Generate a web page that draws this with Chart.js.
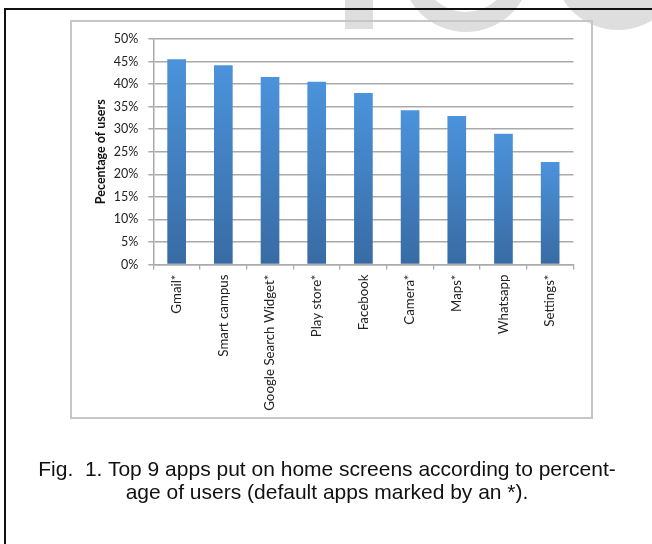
<!DOCTYPE html>
<html>
<head>
<meta charset="utf-8">
<script src="https://cdn.jsdelivr.net/npm/chart.js@4.4.1/dist/chart.umd.min.js"></script>
<style>
  html, body { margin: 0; padding: 0; background: #ffffff; }
  body { width: 652px; height: 544px; position: relative; overflow: hidden; }
  #c { position: absolute; left: 0; top: 0; z-index: 0; }
  #outer { position: absolute; left: 4px; top: 8px; width: 1000px; height: 1000px;
           border-left: 2px solid #111; border-top: 2px solid #111; z-index: 2; pointer-events: none; }
  #frame { position: absolute; left: 70px; top: 20px; width: 523px; height: 399px; box-sizing: border-box;
           border: 2px solid #c6c6c6; z-index: 2; pointer-events: none; }
  #caption { position: absolute; left: 0; top: 457px; width: 654px; text-align: center;
             font-family: "Liberation Sans", Arial, sans-serif; font-size: 21px; line-height: 23px;
             color: #111; z-index: 3; }
</style>
</head>
<body>
<canvas id="c" width="652" height="544"></canvas>
<div id="outer"></div>
<div id="frame"></div>
<div id="caption">Fig.&nbsp; 1. Top 9 apps put on home screens according to percent-<br>age of users (default apps marked by an *).</div>
<script>
const categories = ["Gmail*", "Smart campus", "Google Search Widget*", "Play store*", "Facebook",
                    "Camera*", "Maps*", "Whatsapp", "Settings*"];
const percentUsers = [45.5, 44.2, 41.6, 40.5, 38.0, 34.2, 32.9, 29.0, 22.7];
const yTickMax = 50;
const yTickStep = 5;
const yTitle = "Pecentage of users";

const watermark = {
  id: 'watermark',
  beforeDraw(chart) {
    const ctx = chart.ctx;
    ctx.save();
    ctx.fillStyle = '#dedede';
    ctx.fillRect(345, 0, 28, 29);
    ctx.beginPath();
    ctx.arc(466, -33, 65, 0, Math.PI * 2);
    ctx.arc(466, -33, 45, 0, Math.PI * 2, true);
    ctx.fill('evenodd');
    ctx.beginPath();
    ctx.arc(618, -35, 65, 0, Math.PI * 2);
    ctx.fill();
    ctx.restore();
  }
};

const gridColor = '#aaaaaa';

function barGradient(context) {
  const chart = context.chart;
  const ys = chart.scales && chart.scales.y;
  if (!chart.chartArea || !ys || context.raw === undefined) return '#4a8bd0';
  const top = ys.getPixelForValue(context.raw);
  const bottom = ys.getPixelForValue(0);
  const g = chart.ctx.createLinearGradient(0, top, 0, bottom);
  g.addColorStop(0, '#4b93dc');
  g.addColorStop(1, '#386ba3');
  return g;
}

new Chart(document.getElementById('c'), {
  type: 'bar',
  data: {
    labels: categories,
    datasets: [{
      data: percentUsers,
      backgroundColor: barGradient,
      borderWidth: 0,
      barPercentage: 0.4,
      categoryPercentage: 1.0
    }]
  },
  plugins: [watermark],
  options: {
    responsive: false,
    animation: false,
    events: [],
    layout: { padding: { left: 90, right: 78.5, top: 39, bottom: 129.5 } },
    plugins: { legend: { display: false }, tooltip: { enabled: false } },
    scales: {
      x: {
        afterFit(scale) { scale.height = 150; },
        grid: { display: true, drawOnChartArea: false, drawTicks: true, tickLength: 5, color: gridColor, lineWidth: 1.3 },
        border: { display: true, color: gridColor, width: 1.5 },
        ticks: {
          minRotation: 90, maxRotation: 90, autoSkip: false, padding: 5,
          color: '#222', font: { family: 'Lato', size: 13.3 }
        }
      },
      y: {
        min: 0, max: yTickMax,
        afterFit(scale) { scale.width = 63.3; },
        grid: { color: gridColor, lineWidth: 1.5, drawTicks: true, tickLength: 5 },
        border: { display: true, color: gridColor, width: 1.5 },
        ticks: {
          stepSize: yTickStep, padding: 10, color: '#222',
          font: { family: 'Lato', size: 12.5 },
          callback: v => v + '%'
        },
        title: {
          display: true, text: yTitle, color: '#111',
          font: { family: 'Lato', size: 12.5, weight: 'bold', lineHeight: 1 },
          padding: { top: 5, bottom: 0 }
        }
      }
    }
  }
});
</script>
</body>
</html>
